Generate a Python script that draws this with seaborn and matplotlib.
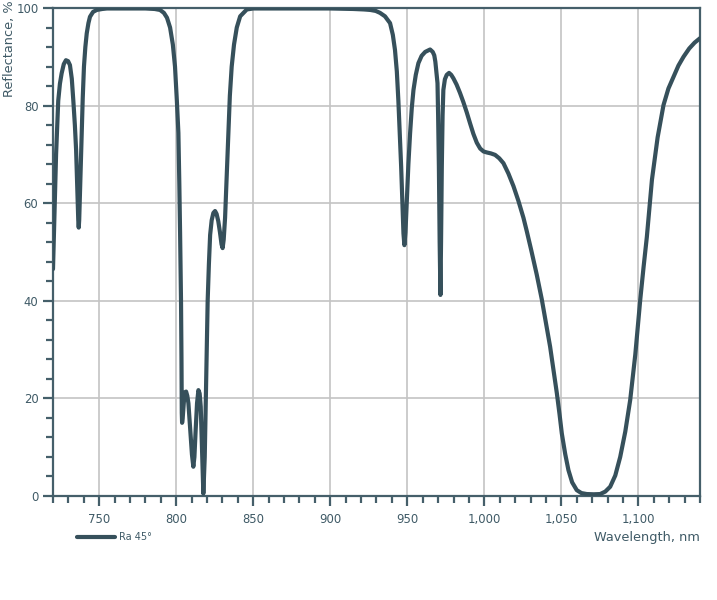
import matplotlib
matplotlib.use('Agg')
import matplotlib.pyplot as plt
import pandas as pd
import seaborn as sns
from matplotlib.ticker import MultipleLocator, FuncFormatter

# Reflectance curve (wavelength nm, reflectance %)
wavelength = [
    720, 721, 722, 722.5, 723.4, 724.5, 725.6, 727, 728.4, 729.8, 731, 732.2,
    733.2, 734.2, 735, 735.6, 736, 736.4, 736.7, 737, 737.5, 738, 738.6, 739.3,
    740.1, 741, 741.9, 743, 744, 746, 748.4, 752, 755, 770, 780, 786, 789.5,
    792, 794, 796, 797.8, 799.2, 800.4, 801.4, 802, 802.5, 803.1, 803.4, 803.6,
    803.8, 804.2, 805, 805.8, 806.4, 807.2, 807.9, 809, 810.2, 811.1, 811.8,
    812.6, 813.5, 814.4, 815.2, 815.9, 816.7, 817.6, 818.5, 819.2, 819.8,
    820.4, 821.2, 822, 823, 824.1, 825.2, 826.2, 827.3, 828.4, 829.4, 830.1,
    830.8, 831.7, 832.8, 833.8, 834.8, 836, 837.5, 839.3, 841.5, 845.8, 850,
    900, 915, 922, 926, 929.5, 932.3, 935.5, 938.8, 940.6, 942, 943.2, 944.2,
    945.1, 946, 946.8, 947.5, 948.1, 948.8, 949.7, 950.7, 951.8, 952.9, 954,
    955.5, 957.2, 959.3, 961.6, 964.8, 966.5, 967.5, 968.2, 969, 969.6, 970,
    970.5, 971, 971.5, 971.9, 972.4, 972.9, 973.4, 974.4, 975.6, 977.1, 978.5,
    979.9, 982, 984.2, 986.4, 988.6, 990.8, 992.9, 995.1, 997.3, 999.5,
    1001.6, 1004.3, 1007, 1009.7, 1012.4, 1015.6, 1018.9, 1022.1, 1025.4,
    1027.6, 1030.5, 1034, 1037.3, 1040, 1042.7, 1045, 1047.1, 1048.8, 1050.3,
    1052.5, 1054.6, 1057, 1060, 1063, 1066.5, 1071, 1075.2, 1078.5, 1081.7,
    1085, 1088.2, 1091.5, 1094.7, 1098, 1101.2, 1103.4, 1105.5, 1108.8,
    1112.5, 1116.3, 1119.5, 1122.8, 1126, 1129.3, 1133, 1136.5, 1140,
]
reflectance = [
    46.5, 58, 70, 74, 81, 84.5, 86.6, 88.5, 89.3, 89.1, 88.3, 85.5,
    81, 76, 70.9, 65, 60.7, 56.5, 55, 56.5, 62, 68, 74.3, 81.5,
    88, 92, 94.8, 96.9, 98.2, 99.2, 99.6, 99.8, 99.9, 99.9, 99.9, 99.8, 99.6,
    99, 98, 96, 92.5, 88, 81, 74.4, 64, 53.9, 40, 28, 17,
    15, 16, 19.5, 21.3, 21.4, 20.5, 19, 14, 8.5, 6, 8,
    13.5, 19, 21.7, 21, 18.3, 10, 0.5, 8, 20, 30,
    40, 47.5, 53.5, 56.5, 58, 58.4, 57.8, 56.3, 54, 51.6, 50.8,
    52.5, 57, 66, 74.3, 82, 88, 92.5, 96, 98.3, 99.7, 99.9,
    99.9, 99.8, 99.7, 99.6, 99.4, 99.0, 98.3, 96.9, 94.5, 91.4, 87, 81,
    74.5, 67.5, 60, 53.8, 51.4, 54, 60.7, 68, 74.3, 79.5, 83.2,
    86.3, 88.7, 90.2, 91, 91.5, 91, 90.3, 89, 86.5, 84.6, 78,
    67.5, 52, 41.2, 52, 67.5, 78, 83.2, 85.4, 86.3, 86.7, 86.3,
    85.6, 84.3, 82.6, 80.7, 78.6, 76.3, 74.2, 72.4, 71.2, 70.6,
    70.4, 70.2, 69.9, 69.2, 68.2, 66.1, 63.5, 60.5, 57,
    54.2, 50.3, 45.4, 40.3, 35.5, 30.6, 25.6, 21, 16.8, 12.8,
    8.6, 5.3, 2.8, 1.2, 0.6, 0.4, 0.35, 0.4, 0.9, 1.9,
    4.2, 8, 13.2, 19.7, 29, 40.2, 47, 53.1, 64.8,
    73.5, 80.1, 83.5, 85.9, 88.2, 90, 91.7, 92.9, 93.8,
]
series_label = 'Ra 45°'
x_ticks = [750, 800, 850, 900, 950, 1000, 1050, 1100]
y_ticks = [0, 20, 40, 60, 80, 100]

df = pd.DataFrame({'wavelength': wavelength, 'reflectance': reflectance})

line_color = '#36505b'
text_color = '#3f5a66'
spine_color = '#455f6a'
grid_color = '#c4c4c4'

sns.set_style('white')
plt.rcParams['font.family'] = ['DejaVu Sans']

fig = plt.figure(figsize=(7.17, 6.0), dpi=100)
ax = fig.add_axes([53 / 717, 1 - 496 / 600, 647 / 717, 488 / 600])

sns.lineplot(data=df, x='wavelength', y='reflectance', ax=ax, sort=False,
             color=line_color, linewidth=3.0, label=series_label,
             estimator=None, zorder=3)

ax.set_xlim(720, 1140)
ax.set_ylim(0, 100)
ax.set_xticks(x_ticks)
ax.set_yticks(y_ticks)
ax.xaxis.set_minor_locator(MultipleLocator(10))
ax.yaxis.set_minor_locator(MultipleLocator(4))
ax.xaxis.set_major_formatter(FuncFormatter(lambda v, p: f'{int(v):,}'))

ax.grid(True, which='major', color=grid_color, linewidth=1.2, zorder=0)
ax.set_axisbelow(True)

ax.tick_params(axis='both', which='major', direction='out', length=7.5,
               width=1.6, color=spine_color, labelcolor=text_color,
               labelsize=8.4, pad=3)
ax.tick_params(axis='both', which='minor', direction='out', length=4.8,
               width=1.6, color=spine_color)
ax.tick_params(axis='x', which='major', pad=5)
ax.tick_params(left=True, bottom=True, which='both')

for s in ax.spines.values():
    s.set_visible(True)
    s.set_color(spine_color)
    s.set_linewidth(1.6)

ax.set_xlabel('')
ax.set_ylabel('')
fig.text(10 / 717, 1.0, 'Reflectance, %', rotation=90, ha='center',
         va='top', color=text_color, fontsize=9.3)
fig.text(700 / 717, 1 - 537 / 600, 'Wavelength, nm', ha='right',
         va='center', color=text_color, fontsize=9.3)

leg = ax.legend(loc='center left', bbox_to_anchor=(77 / 717, 1 - 537 / 600),
                bbox_transform=fig.transFigure, frameon=False, borderpad=0,
                borderaxespad=0, handlelength=3.9, handletextpad=0.4,
                fontsize=7)
for t in leg.get_texts():
    t.set_color(text_color)

fig.savefig('out.png', dpi=100)
